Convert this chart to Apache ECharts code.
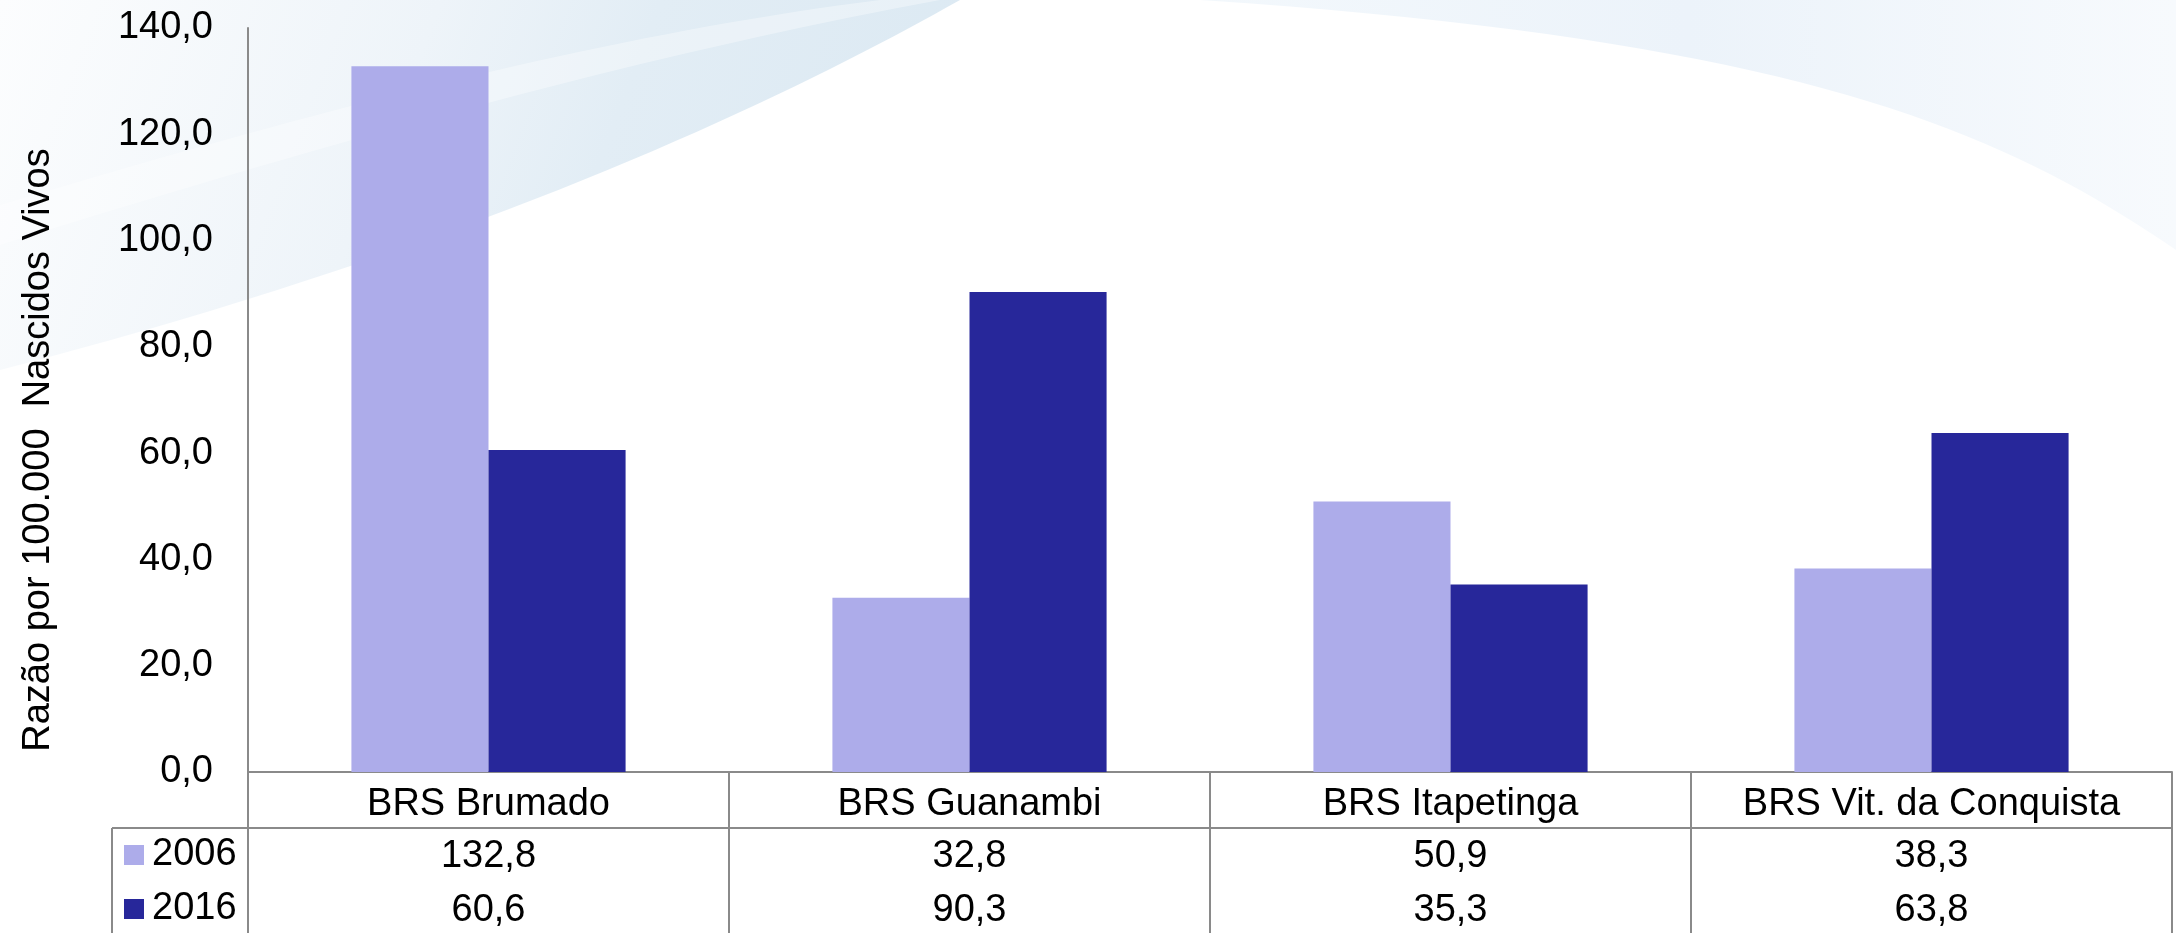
<!DOCTYPE html>
<html>
<head>
<meta charset="utf-8">
<script src="https://cdn.jsdelivr.net/npm/echarts@6/dist/echarts.min.js"></script>
<style>
  html, body { margin: 0; padding: 0; background: #fff; }
  #main { width: 2176px; height: 933px; }
</style>
</head>
<body>
<div id="main"></div>
<script>
// dados
var categorias = ['BRS Brumado', 'BRS Guanambi', 'BRS Itapetinga', 'BRS Vit. da Conquista'];
var anos = ['2006', '2016'];
var valores2006 = [132.8, 32.8, 50.9, 38.3];
var valores2016 = [60.6, 90.3, 35.3, 63.8];
var eixoY = { min: 0, max: 140, interval: 20 };

var fonte = '"Liberation Sans", Arial, sans-serif';
var cinza = '#8a8a8a';

function fmt(v, casas) {
    return v.toFixed(casas).replace('.', ',');
}

function gradiente(x2, y2, paradas) {
    return {
        type: 'linear', x: 0, y: 0, x2: x2, y2: y2,
        colorStops: paradas.map(function (p) { return { offset: p[0], color: p[1] }; })
    };
}

// pontos de uma curva cubica, para os enfeites do fundo
function curva(p0, p1, p2, p3) {
    var pts = [];
    for (var i = 0; i <= 40; i++) {
        var t = i / 40, u = 1 - t;
        pts.push([
            u * u * u * p0[0] + 3 * u * u * t * p1[0] + 3 * u * t * t * p2[0] + t * t * t * p3[0],
            u * u * u * p0[1] + 3 * u * u * t * p1[1] + 3 * u * t * t * p2[1] + t * t * t * p3[1]
        ]);
    }
    return pts;
}

var fundoEsq = [[0, 0]].concat(curva([960, 0], [800, 90], [500, 240], [0, 370]));
var faixaBranca = curva([0, 205], [300, 115], [600, 35], [880, 0])
    .concat(curva([940, 0], [640, 55], [320, 145], [0, 245]));
var fundoDir = [[2176, 0], [2176, 250]].concat(curva([2176, 250], [2000, 130], [1800, 40], [1200, 0]));

var myChart = echarts.init(document.getElementById('main'));

myChart.setOption({
    backgroundColor: '#ffffff',
    textStyle: { fontFamily: fonte, color: '#000' },
    animation: false,
    // fundo decorativo
    graphic: [
        {
            type: 'polygon', z: -10, silent: true,
            shape: { points: fundoEsq },
            style: { fill: gradiente(1, 1, [[0, '#fcfdfe'], [0.4, '#eef4f9'], [0.6, '#e2edf5'], [1, '#dae8f2']]) }
        },
        {
            type: 'polygon', z: -9, silent: true,
            shape: { points: faixaBranca },
            style: { fill: 'rgba(255,255,255,0.35)' }
        },
        {
            type: 'polygon', z: -10, silent: true,
            shape: { points: fundoDir },
            style: { fill: gradiente(1, 0, [[0, '#f3f8fc'], [0.5, '#ecf3fa'], [1, '#f7fafd']]) }
        },
        // borda da coluna da legenda
        {
            type: 'line', silent: true,
            shape: { x1: 112, y1: 828, x2: 248, y2: 828 },
            style: { stroke: cinza, lineWidth: 2 }
        },
        {
            type: 'line', silent: true,
            shape: { x1: 112, y1: 828, x2: 112, y2: 933 },
            style: { stroke: cinza, lineWidth: 2 }
        }
    ],
    legend: {
        data: anos,
        orient: 'vertical',
        left: 124,
        top: 835,
        padding: 0,
        itemWidth: 20,
        itemHeight: 20,
        itemGap: 14,
        icon: 'rect',
        selectedMode: false,
        textStyle: { fontFamily: fonte, fontSize: 38, color: '#000', lineHeight: 40, padding: [0, 0, 0, 3] }
    },
    grid: { left: 248, right: 4, top: 28, bottom: 161, outerBoundsMode: 'none', containLabel: false },
    xAxis: [
        {
            type: 'category',
            data: categorias,
            position: 'bottom',
            axisLine: { show: true, lineStyle: { color: cinza, width: 2 } },
            axisTick: { show: true, length: 161, lineStyle: { color: cinza, width: 2 } },
            axisLabel: { interval: 0, margin: 14, fontSize: 38, color: '#000', fontFamily: fonte }
        },
        {
            type: 'category',
            data: categorias,
            position: 'bottom',
            offset: 56,
            axisLine: { show: true, lineStyle: { color: cinza, width: 2 } },
            axisTick: { show: false },
            axisLabel: {
                interval: 0, margin: 2, fontSize: 38, color: '#000', fontFamily: fonte, lineHeight: 54,
                formatter: function (v, i) {
                    return fmt(valores2006[i], 1) + '\n' + fmt(valores2016[i], 1);
                }
            }
        }
    ],
    yAxis: {
        type: 'value',
        min: eixoY.min,
        max: eixoY.max,
        interval: eixoY.interval,
        name: 'Razão por 100.000  Nascidos Vivos',
        nameLocation: 'middle',
        nameRotate: 90,
        nameGap: 190,
        nameTextStyle: { fontSize: 38, color: '#000', fontFamily: fonte, padding: [0, 100, 0, 0] },
        axisLine: { show: true, lineStyle: { color: cinza, width: 2 } },
        axisTick: { show: false },
        splitLine: { show: false },
        axisLabel: {
            margin: 35, fontSize: 38, color: '#000', fontFamily: fonte,
            formatter: function (v) { return fmt(v, 1); }
        }
    },
    series: [
        {
            name: anos[0],
            type: 'bar',
            data: valores2006,
            barGap: '0%',
            barCategoryGap: '43%',
            itemStyle: { color: '#adacea' }
        },
        {
            name: anos[1],
            type: 'bar',
            data: valores2016,
            barGap: '0%',
            barCategoryGap: '43%',
            itemStyle: { color: '#27279a' }
        }
    ]
});
</script>
</body>
</html>
